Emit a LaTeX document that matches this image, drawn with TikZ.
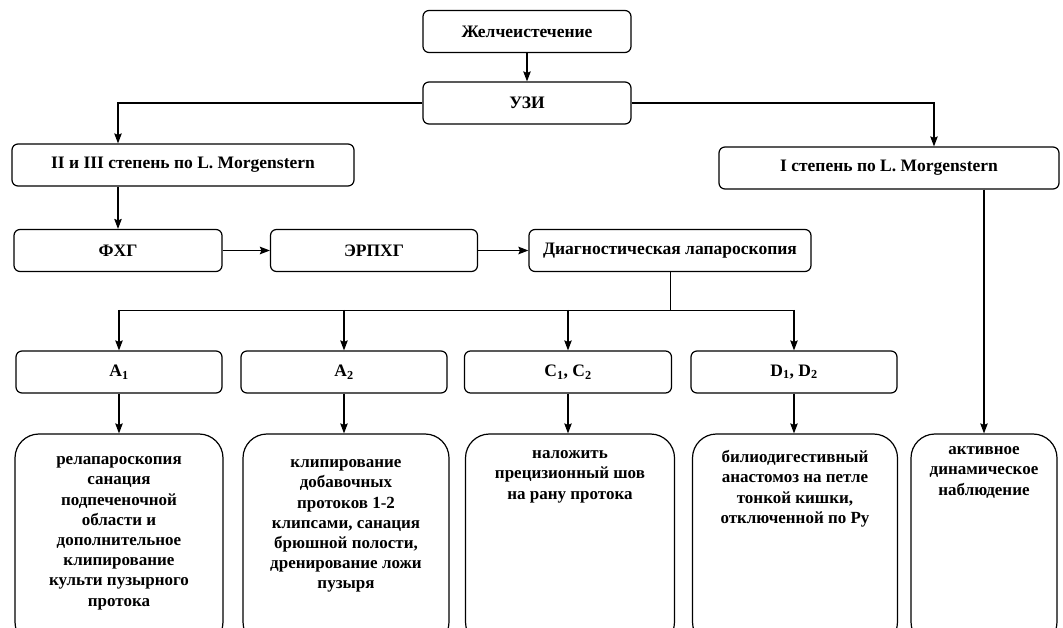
\documentclass[tikz,border=0pt]{standalone}
\usepackage{fontspec}
\setmainfont{Liberation Serif}
\usetikzlibrary{arrows.meta,positioning}
\begin{document}
\begin{tikzpicture}[x=1pt,y=-1pt,
  box/.style={draw,rounded corners=6pt,line width=1.2pt,inner sep=0pt,
    font=\bfseries\fontsize{17.5}{20}\selectfont,minimum height=42pt},
  bigbox/.style={draw,rounded corners=24pt,line width=1.2pt,minimum height=212pt},
  bigtext/.style={font=\bfseries\fontsize{17}{20.2}\selectfont,align=center,
    inner sep=0pt,anchor=north},
  arr/.style={-{Stealth[length=10pt,width=7.5pt,inset=1.5pt]},line width=1.1pt}]
	\useasboundingbox (0,0) rectangle (1063,628);
	\clip (0,0) rectangle (1063,628);
	\fill[white] (0,0) rectangle (1063,628);
	% top of the scheme
	\node[box,minimum width=208pt] (zhel) at (527,31.5) {Желчеистечение};
	\node[box,minimum width=208pt] (uzi) at (527,103) {УЗИ};
	\node[box,minimum width=342pt] (st23) at (183,165) {II и III степень по L. Morgenstern};
	\node[box,minimum width=340pt] (st1) at (889,168) {I степень по L. Morgenstern};
%
	\node[box,minimum width=208pt] (fhg) at (118,250.5) {ФХГ};
	\node[box,minimum width=207pt] (erph) at (374,250.5) {ЭРПХГ};
	\node[box,minimum width=282pt] (diag) at (670,250.5) {Диагностическая лапароскопия};
	\draw[arr] (zhel) -- (uzi);
	\draw[arr] (uzi.west) -| (st23.north -| fhg.north);
	\draw[arr] (uzi.east) -| ([xshift=45pt]st1.north);
	\draw[arr] (st23.south -| fhg.north) -- (fhg);
	\draw[arr,line width=1.6pt] (fhg) -- (erph);
	\draw[arr,line width=1.6pt] (erph) -- (diag);
%
	\node[box,minimum width=206pt] (a1) at (119,372) {A\textsubscript{1}};
	\node[box,minimum width=206pt] (a2) at (344,372) {A\textsubscript{2}};
	\node[box,minimum width=207pt] (c12) at (568,372) {C\textsubscript{1}, C\textsubscript{2}};
	\node[box,minimum width=206pt] (d12) at (794,372) {D\textsubscript{1}, D\textsubscript{2}};
	\coordinate (split) at (670,310);
	\draw[line width=0.6pt] (diag) -- (split);
	\draw (a1.north |- split) -- (d12.north |- split);
	\foreach \n in {a1,a2,c12,d12}
		\draw[arr] (\n.north |- split) -- (\n.north);
%
	\node[bigbox,minimum width=208pt] (r1) at (119,540) {};
	\node[bigbox,minimum width=206pt] (r2) at (346,540) {};
	\node[bigbox,minimum width=209pt] (r3) at (570,540) {};
	\node[bigbox,minimum width=205pt] (r4) at (795,540) {};
	\node[bigbox,minimum width=146pt] (act) at (984,540) {};
	\node[bigtext,below=23pt of r1.north] {релапароскопия\\санация\\подпеченочной\\области и\\дополнительное\\клипирование\\культи пузырного\\протока};
	\node[bigtext,below=26pt of r2.north] {клипирование\\добавочных\\протоков 1-2\\клипсами, санация\\брюшной полости,\\дренирование ложи\\пузыря};
	\node[bigtext,below=17pt of r3.north] {наложить\\прецизионный шов\\на рану протока};
	\node[bigtext,below=17pt of r4.north] {билиодигестивный\\анастомоз на петле\\тонкой кишки,\\отключенной по Ру};
	\node[bigtext,below=13pt of act.north] {активное\\динамическое\\наблюдение};
	\foreach \a/\b in {a1/r1,a2/r2,c12/r3,d12/r4}
		\draw[arr] (\a.south) -- (\a.south |- \b.north);
	\draw[arr] (st1.south -| act.north) -- (act.north);
\end{tikzpicture}
\end{document}
